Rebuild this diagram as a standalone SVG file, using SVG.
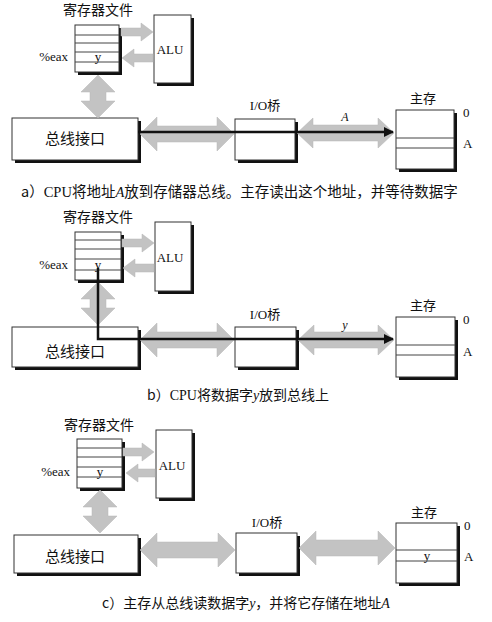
<svg xmlns="http://www.w3.org/2000/svg" width="492" height="622" viewBox="0 0 492 622">
<style>
.box{fill:#fff;stroke:#333;stroke-width:1}
.shadow{fill:none;stroke:#111;stroke-width:3}
.row{stroke:#444;stroke-width:1}
.cjk{font-family:"Noto Sans CJK SC","Noto Sans",sans-serif;fill:#111}
.lat{font-family:"Liberation Serif",serif;fill:#111}
.gray{fill:#c3c3c3;stroke:#b5b5b5;stroke-width:0.5}
.bus{fill:none;stroke:#111;stroke-width:2.5}
</style>
<defs>
<marker id="ah" viewBox="0 0 10 10" refX="9" refY="5" markerWidth="5" markerHeight="4" orient="auto" markerUnits="strokeWidth">
<path d="M0,0 L10,5 L0,10 Z" fill="#111"/>
</marker>
</defs>
<rect width="492" height="622" fill="#fff"/>

<!-- Panel a -->
<g id="panel-a">
<text class="cjk" x="98" y="15" font-size="14" text-anchor="middle">寄存器文件</text>
<g id="a-regfile">
<polyline class="shadow" points="120.5,28 120.5,73.5 78,73.5"/>
<rect class="box" x="75" y="25" width="44" height="47"/>
<line class="row" x1="75" y1="35" x2="119" y2="35"/>
<line class="row" x1="75" y1="43" x2="119" y2="43"/>
<line class="row" x1="75" y1="52" x2="119" y2="52"/>
<line class="row" x1="75" y1="62" x2="119" y2="62"/>
<text class="lat" x="98" y="61" font-size="13" text-anchor="middle">y</text>
<text class="lat" x="68" y="61" font-size="13" text-anchor="end">%eax</text>
</g>
<g id="a-alu">
<polyline class="shadow" points="192.5,18 192.5,84.5 157,84.5"/>
<rect class="box" x="154" y="15" width="37" height="68"/>
<text class="lat" x="170" y="54" font-size="13" text-anchor="middle">ALU</text>
</g>
<g id="a-bus">
<polyline class="shadow" points="139.5,121 139.5,161.5 15,161.5"/>
<rect class="box" x="12" y="118" width="126" height="42"/>
<text class="cjk" x="75" y="144" font-size="15" text-anchor="middle">总线接口</text>
</g>
<g id="a-io">
<text class="lat" x="265" y="110" font-size="13" text-anchor="middle">I/O<tspan class="cjk">桥</tspan></text>
<polyline class="shadow" points="296.5,122 296.5,161.5 238,161.5"/>
<rect class="box" x="235" y="119" width="60" height="41"/>
</g>
<g id="a-mem">
<text class="cjk" x="423" y="103" font-size="13" text-anchor="middle">主存</text>
<polyline class="shadow" points="455.5,113 455.5,170.5 399,170.5"/>
<rect class="box" x="396" y="110" width="58" height="59"/>
<line class="row" x1="396" y1="138" x2="454" y2="138"/>
<line class="row" x1="396" y1="148" x2="454" y2="148"/>
<text class="lat" x="463" y="117" font-size="13">0</text>
<text class="lat" x="463" y="148" font-size="13">A</text>
</g>
<g id="a-connectors">
<path class="gray" d="M121,28 L141,28 L141,23 L153,32 L141,41 L141,36 L121,36 Z"/>
<path class="gray" d="M153,54 L134,54 L134,49 L122,58 L134,67 L134,62 L153,62 Z"/>
<path class="gray" d="M98,75 L115,92 L106,92 L106,101 L115,101 L98,118 L81,101 L90,101 L90,92 L81,92 Z"/>
<path class="gray" d="M140,134 L157,117 L157,126 L217,126 L217,117 L234,134 L217,151 L217,142 L157,142 L157,151 Z"/>
<path class="gray" d="M297,133 L313,118 L313,125 L378,125 L378,118 L394,133 L378,148 L378,141 L313,141 L313,148 Z"/>
<line class="bus" x1="138" y1="132" x2="393" y2="132" marker-end="url(#ah)"/>
<text class="lat" x="345" y="121" font-size="12" font-style="italic" text-anchor="middle">A</text>
</g>
</g>
<text class="cjk" x="21" y="197" font-size="14.5">a）<tspan class="lat">CPU</tspan>将地址<tspan class="lat" font-style="italic">A</tspan>放到存储器总线。主存读出这个地址，并等待数据字</text>

<!-- Panel b -->
<g id="panel-b" transform="translate(0,207)">
<text class="cjk" x="98" y="15" font-size="14" text-anchor="middle">寄存器文件</text>
<g id="b-regfile">
<polyline class="shadow" points="122.5,28 122.5,74.5 78,74.5"/>
<rect class="box" x="75" y="25" width="46" height="48"/>
<line class="row" x1="75" y1="33" x2="121" y2="33"/>
<line class="row" x1="75" y1="42" x2="121" y2="42"/>
<line class="row" x1="75" y1="52" x2="121" y2="52"/>
<line class="row" x1="75" y1="63" x2="121" y2="63"/>
<text class="lat" x="98" y="62" font-size="13" text-anchor="middle">y</text>
<text class="lat" x="68" y="62" font-size="13" text-anchor="end">%eax</text>
</g>
<g id="b-alu">
<polyline class="shadow" points="192.5,18 192.5,85.5 158,85.5"/>
<rect class="box" x="155" y="15" width="36" height="69"/>
<text class="lat" x="170" y="55" font-size="13" text-anchor="middle">ALU</text>
</g>
<g id="b-bus">
<polyline class="shadow" points="139.5,123 139.5,161.5 15,161.5"/>
<rect class="box" x="12" y="120" width="126" height="40"/>
<text class="cjk" x="75" y="150" font-size="15" text-anchor="middle">总线接口</text>
</g>
<g id="b-io">
<text class="lat" x="265" y="112" font-size="13" text-anchor="middle">I/O<tspan class="cjk">桥</tspan></text>
<polyline class="shadow" points="297.5,123 297.5,161.5 238,161.5"/>
<rect class="box" x="235" y="120" width="61" height="40"/>
</g>
<g id="b-mem">
<text class="cjk" x="423" y="103" font-size="13" text-anchor="middle">主存</text>
<polyline class="shadow" points="456.5,113 456.5,171.5 399,171.5"/>
<rect class="box" x="396" y="110" width="59" height="60"/>
<line class="row" x1="396" y1="138" x2="455" y2="138"/>
<line class="row" x1="396" y1="148" x2="455" y2="148"/>
<text class="lat" x="463" y="117" font-size="13">0</text>
<text class="lat" x="463" y="149" font-size="13">A</text>
</g>
<g id="b-connectors">
<path class="gray" d="M122,32 L142,32 L142,27 L154,36 L142,45 L142,40 L122,40 Z"/>
<path class="gray" d="M154,57 L135,57 L135,52 L123,61 L135,70 L135,65 L154,65 Z"/>
<path class="gray" d="M98,75 L115,92 L106,92 L106,101 L115,101 L98,118 L81,101 L90,101 L90,92 L81,92 Z"/>
<path class="gray" d="M140,133 L157,116 L157,125 L217,125 L217,116 L234,133 L217,150 L217,141 L157,141 L157,150 Z"/>
<path class="gray" d="M298,133 L314,118 L314,125 L378,125 L378,118 L394,133 L378,148 L378,141 L314,141 L314,148 Z"/>
<path class="bus" d="M98,61 V132 H393" marker-end="url(#ah)"/>
<text class="lat" x="345" y="122" font-size="12" font-style="italic" text-anchor="middle">y</text>
</g>
</g>
<text class="cjk" x="147" y="400" font-size="14">b）<tspan class="lat">CPU</tspan>将数据字<tspan class="lat" font-style="italic">y</tspan>放到总线上</text>

<!-- Panel c -->
<g id="panel-c" transform="translate(1,414)">
<text class="cjk" x="98" y="16" font-size="14" text-anchor="middle">寄存器文件</text>
<g id="c-regfile">
<polyline class="shadow" points="122.5,28 122.5,75.5 79,75.5"/>
<rect class="box" x="76" y="25" width="45" height="49"/>
<line class="row" x1="76" y1="34" x2="121" y2="34"/>
<line class="row" x1="76" y1="43" x2="121" y2="43"/>
<line class="row" x1="76" y1="53" x2="121" y2="53"/>
<line class="row" x1="76" y1="63" x2="121" y2="63"/>
<text class="lat" x="99" y="62" font-size="13" text-anchor="middle">y</text>
<text class="lat" x="69" y="62" font-size="13" text-anchor="end">%eax</text>
</g>
<g id="c-alu">
<polyline class="shadow" points="192.5,19 192.5,85.5 158,85.5"/>
<rect class="box" x="155" y="16" width="36" height="68"/>
<text class="lat" x="171" y="56" font-size="13" text-anchor="middle">ALU</text>
</g>
<g id="c-bus">
<polyline class="shadow" points="138.5,124 138.5,160.5 16,160.5"/>
<rect class="box" x="13" y="121" width="124" height="38"/>
<text class="cjk" x="74" y="148" font-size="15" text-anchor="middle">总线接口</text>
</g>
<g id="c-io">
<text class="lat" x="266" y="113" font-size="13" text-anchor="middle">I/O<tspan class="cjk">桥</tspan></text>
<polyline class="shadow" points="297.5,122 297.5,160.5 238,160.5"/>
<rect class="box" x="235" y="119" width="61" height="40"/>
</g>
<g id="c-mem">
<text class="cjk" x="423" y="103" font-size="13" text-anchor="middle">主存</text>
<polyline class="shadow" points="457.5,112 457.5,170.5 398,170.5"/>
<rect class="box" x="395" y="109" width="61" height="60"/>
<line class="row" x1="395" y1="136" x2="456" y2="136"/>
<line class="row" x1="395" y1="147" x2="456" y2="147"/>
<text class="lat" x="426" y="146" font-size="13" text-anchor="middle">y</text>
<text class="lat" x="463" y="116" font-size="13">0</text>
<text class="lat" x="463" y="147" font-size="13">A</text>
</g>
<g id="c-connectors">
<path class="gray" d="M122,34 L141,34 L141,29 L153,38 L141,47 L141,42 L122,42 Z"/>
<path class="gray" d="M154,55 L137,55 L137,50 L125,59 L137,68 L137,63 L154,63 Z"/>
<path class="gray" d="M99,76 L116,93 L107,93 L107,102 L116,102 L99,119 L82,102 L91,102 L91,93 L82,93 Z"/>
<path class="gray" d="M139,136 L156,119 L156,128 L217,128 L217,119 L234,136 L217,153 L217,144 L156,144 L156,153 Z"/>
<path class="gray" d="M298,134 L315,117 L315,126 L377,126 L377,117 L394,134 L377,151 L377,142 L315,142 L315,151 Z"/>
</g>
</g>
<text class="cjk" x="102" y="608" font-size="14">c）主存从总线读数据字<tspan class="lat" font-style="italic">y</tspan>，并将它存储在地址<tspan class="lat" font-style="italic">A</tspan></text>
</svg>
